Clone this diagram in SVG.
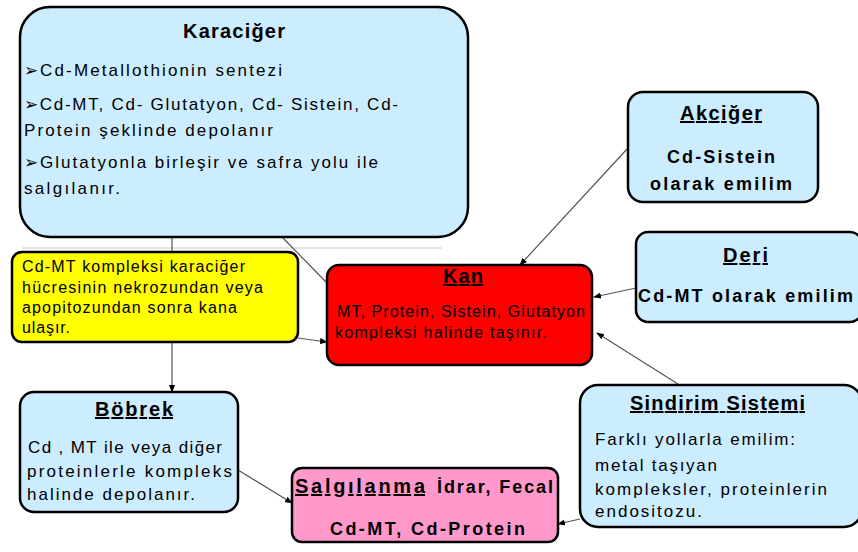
<svg xmlns="http://www.w3.org/2000/svg" width="858" height="552" viewBox="0 0 858 552">
<defs>
<marker id="ah" markerWidth="8" markerHeight="8" refX="7" refY="4" orient="auto" markerUnits="userSpaceOnUse">
<path d="M0,1 L8,4 L0,7 Z" fill="#000"/>
</marker>
</defs>
<style>
.box{stroke:#000;stroke-width:2.5}
.blue{fill:#CCECFF}
.t{font-family:"Liberation Sans",Arial,sans-serif;fill:#000}
.h{font-weight:bold;font-size:20px}
.b{font-size:17px}
.bb{font-weight:bold;font-size:18px}
.s{font-size:16px}
.u{text-decoration:underline}
.c{stroke:#555;stroke-width:1.2;fill:none;marker-end:url(#ah)}
.c0{stroke:#555;stroke-width:1.2;fill:none}
</style>
<rect width="858" height="552" fill="#fff"/>
<line x1="22" y1="248" x2="442" y2="248" stroke="#ccc" stroke-width="1"/>
<g id="connectors">
<line class="c" x1="172" y1="237" x2="172" y2="392"/>
<line class="c0" x1="282" y1="237" x2="328" y2="284"/>
<line class="c" x1="298" y1="338" x2="327" y2="342"/>
<line class="c" x1="628" y1="148" x2="520" y2="265"/>
<line class="c" x1="636" y1="288" x2="594" y2="297"/>
<line class="c" x1="678" y1="384" x2="597" y2="333"/>
<line class="c" x1="580" y1="519" x2="558" y2="524"/>
<line class="c" x1="238" y1="470" x2="292" y2="503"/>
</g>
<g id="karaciger">
<rect class="box blue" x="20" y="7" width="448" height="230" rx="30"/>
<text class="t h" x="183" y="38" textLength="102">Karaciğer</text>
<text class="t b" x="24" y="76" textLength="258">➢Cd-Metallothionin sentezi</text>
<text class="t b" x="24" y="110" textLength="374">➢Cd-MT, Cd- Glutatyon, Cd- Sistein, Cd-</text>
<text class="t b" x="24" y="136" textLength="249">Protein şeklinde depolanır</text>
<text class="t b" x="24" y="168" textLength="354">➢Glutatyonla birleşir ve safra yolu ile</text>
<text class="t b" x="24" y="194" textLength="96">salgılanır.</text>
</g>
<g id="akciger">
<rect class="box blue" x="628" y="92" width="190" height="110" rx="15"/>
<text class="t h u" x="680" y="120" textLength="82">Akciğer</text>
<text class="t bb" x="667" y="163" textLength="108">Cd-Sistein</text>
<text class="t bb" x="650" y="190" textLength="142">olarak emilim</text>
</g>
<g id="deri">
<rect class="box blue" x="636" y="232" width="226" height="90" rx="12"/>
<text class="t h u" x="723" y="262" textLength="45">Deri</text>
<text class="t bb" x="638" y="302" textLength="215">Cd-MT olarak emilim</text>
</g>
<g id="kan">
<rect class="box" fill="#FF0000" x="327" y="265" width="265" height="100" rx="12"/>
<text class="t h u" x="443" y="283" textLength="40">Kan</text>
<text class="t s" x="337" y="317" textLength="248">MT, Protein, Sistein, Glutatyon</text>
<text class="t s" x="335" y="338" textLength="212">kompleksi halinde taşınır.</text>
</g>
<g id="nekroz">
<rect class="box" fill="#FFFF00" x="12" y="252" width="286" height="90" rx="10"/>
<text class="t s" x="22" y="272" textLength="223">Cd-MT kompleksi karaciğer</text>
<text class="t s" x="22" y="293" textLength="241">hücresinin nekrozundan veya</text>
<text class="t s" x="22" y="313" textLength="215">apopitozundan sonra kana</text>
<text class="t s" x="22" y="333" textLength="48">ulaşır.</text>
</g>
<g id="bobrek">
<rect class="box blue" x="20" y="392" width="218" height="120" rx="14"/>
<text class="t h u" x="95" y="416" textLength="78">Böbrek</text>
<text class="t b" x="28" y="453" textLength="194">Cd , MT ile veya diğer</text>
<text class="t b" x="27" y="477" textLength="205">proteinlerle kompleks</text>
<text class="t b" x="27" y="500" textLength="168">halinde depolanır.</text>
</g>
<g id="salgilanma">
<rect class="box" fill="#FF99CC" x="292" y="468" width="266" height="74" rx="10"/>
<text class="t h u" x="295" y="493" textLength="130">Salgılanma</text>
<text class="t bb" x="437" y="493" textLength="116">İdrar, Fecal</text>
<text class="t bb" x="330" y="535" textLength="195">Cd-MT, Cd-Protein</text>
</g>
<g id="sindirim">
<rect class="box blue" x="580" y="385" width="282" height="142" rx="18"/>
<text class="t h u" x="630" y="410" textLength="175">Sindirim Sistemi</text>
<text class="t b" x="595" y="445" textLength="200">Farklı yollarla emilim:</text>
<text class="t b" x="595" y="471" textLength="122">metal taşıyan</text>
<text class="t b" x="595" y="495" textLength="232">kompleksler, proteinlerin</text>
<text class="t b" x="595" y="517" textLength="107">endositozu.</text>
</g>
</svg>
